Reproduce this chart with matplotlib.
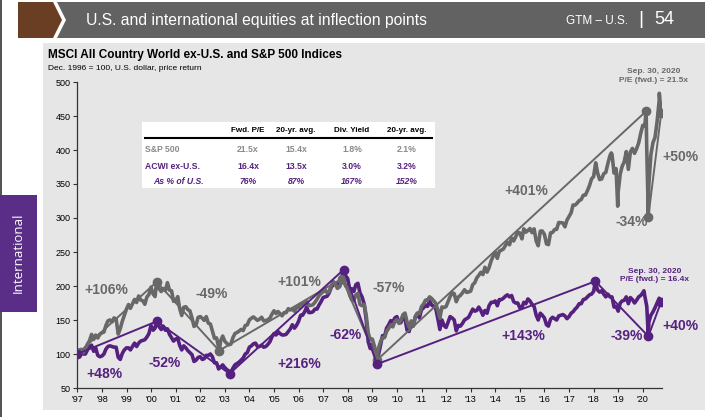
import matplotlib
matplotlib.use("Agg")
import matplotlib.pyplot as plt
from matplotlib.patches import Rectangle, Polygon
import pandas as pd

# Chart data (Dec. 1996 = 100)
sp500_base = 740.74
sp500_close = [
    786.2, 790.8, 757.1, 801.3, 848.3, 885.1, 954.3, 899.5, 947.3, 914.6, 955.4, 970.4,
    980.3, 1049.3, 1101.8, 1111.8, 1090.8, 1133.8, 1120.7, 957.3, 1017.0, 1098.7, 1163.6, 1229.2,
    1279.6, 1238.3, 1286.4, 1335.2, 1301.8, 1372.7, 1328.7, 1320.4, 1282.7, 1362.9, 1388.9, 1469.3,
    1394.5, 1366.4, 1498.6, 1452.4, 1420.6, 1454.6, 1430.8, 1517.7, 1436.5, 1429.4, 1314.9, 1320.3,
    1366.0, 1239.9, 1160.3, 1249.5, 1255.8, 1224.4, 1211.2, 1133.6, 1040.9, 1059.8, 1139.5, 1148.1,
    1130.2, 1106.7, 1147.4, 1076.9, 1067.1, 989.8, 911.6, 916.1, 815.3, 885.8, 936.3, 879.8,
    855.7, 841.2, 848.2, 916.9, 963.6, 974.5, 990.3, 1008.0, 996.0, 1050.7, 1058.2, 1111.9,
    1131.1, 1144.9, 1126.2, 1107.3, 1120.7, 1140.8, 1101.7, 1104.2, 1114.6, 1130.2, 1173.8, 1211.9,
    1181.3, 1203.6, 1180.6, 1156.9, 1191.5, 1191.3, 1234.2, 1220.3, 1228.8, 1207.0, 1249.5, 1248.3,
    1280.1, 1280.7, 1294.9, 1310.6, 1270.1, 1270.2, 1276.7, 1303.8, 1335.9, 1377.9, 1400.6, 1418.3,
    1438.2, 1406.8, 1420.9, 1482.4, 1530.6, 1503.4, 1455.3, 1473.9, 1526.8, 1549.4, 1481.1, 1468.4,
    1378.6, 1330.6, 1322.7, 1385.6, 1400.4, 1280.0, 1267.4, 1282.8, 1166.4, 968.8, 896.2, 903.3,
    825.9, 735.1, 797.9, 872.8, 919.1, 919.3, 987.5, 1020.6, 1057.1, 1036.2, 1095.6, 1115.1,
    1073.9, 1104.5, 1169.4, 1186.7, 1089.4, 1030.7, 1101.6, 1049.3, 1141.2, 1183.3, 1180.6, 1257.6,
    1286.1, 1327.2, 1325.8, 1363.6, 1345.2, 1320.6, 1292.3, 1218.9, 1131.4, 1253.3, 1247.0, 1257.6,
    1312.4, 1365.7, 1408.5, 1397.9, 1310.3, 1362.2, 1379.3, 1406.6, 1440.7, 1412.2, 1416.2, 1426.2,
    1498.1, 1514.7, 1569.2, 1597.6, 1630.7, 1606.3, 1685.7, 1633.0, 1681.6, 1756.5, 1805.8, 1848.4,
    1782.6, 1859.5, 1872.3, 1883.9, 1923.6, 1960.2, 1930.7, 2003.4, 1972.3, 2018.1, 2067.6, 2058.9,
    1995.0, 2104.5, 2067.9, 2085.5, 2107.4, 2063.1, 2103.8, 1972.2, 1920.0, 2079.4, 2080.4, 2043.9,
    1940.2, 1932.2, 2059.7, 2065.3, 2096.9, 2098.9, 2173.6, 2170.9, 2168.3, 2126.2, 2199.0, 2238.8,
    2278.9, 2363.6, 2362.7, 2384.2, 2411.8, 2423.4, 2470.3, 2471.7, 2519.4, 2575.3, 2647.6, 2673.6,
    2823.8, 2713.8, 2640.9, 2648.1, 2705.3, 2718.4, 2816.3, 2901.5, 2914.0, 2711.7, 2760.2, 2506.9,
    2704.1, 2784.5, 2834.4, 2945.8, 2752.1, 2941.8, 2980.4, 2926.5, 2976.7, 3037.6, 3141.0, 3230.8,
    3225.5, 2954.2, 2584.6, 2912.4, 3044.3, 3100.3, 3271.1, 3500.3, 3363.0,
]
sp500_extra_dates = ["2000-03-24", "2002-10-09", "2007-10-09", "2009-03-09",
                     "2018-09-20", "2018-12-24", "2020-02-19", "2020-03-23", "2020-09-02"]
sp500_extra_close = [1527.5, 776.8, 1565.2, 676.5, 2930.8, 2351.1, 3386.2, 2237.4, 3580.8]

acwi_index = [
    100, 101, 100, 100, 106, 111, 113, 104, 109, 98, 96, 97,
    100, 107, 111, 112, 111, 110, 110, 95, 92, 101, 106, 109,
    109, 106, 111, 116, 111, 116, 119, 120, 121, 125, 130, 142,
    135, 138, 146, 140, 136, 141, 135, 137, 129, 124, 119, 122,
    123, 113, 106, 112, 109, 105, 102, 99, 89, 91, 95, 96,
    92, 93, 98, 98, 100, 96, 87, 87, 78, 81, 84, 80,
    77, 75, 73, 79, 84, 86, 88, 91, 94, 100, 102, 110,
    112, 115, 116, 111, 111, 113, 110, 111, 114, 118, 125, 130,
    128, 133, 130, 128, 128, 129, 133, 137, 143, 138, 142, 148,
    157, 157, 162, 169, 161, 161, 162, 166, 166, 172, 177, 183,
    184, 185, 190, 198, 202, 204, 203, 199, 212, 224, 215, 211,
    194, 196, 192, 202, 204, 190, 184, 174, 151, 118, 108, 114,
    103, 93, 98, 112, 127, 126, 138, 143, 149, 147, 153, 155,
    146, 146, 155, 152, 135, 133, 146, 141, 155, 160, 153, 165,
    168, 172, 170, 178, 172, 170, 167, 152, 136, 150, 142, 139,
    147, 155, 153, 150, 134, 142, 141, 145, 150, 152, 154, 160,
    166, 163, 164, 169, 164, 157, 164, 160, 171, 176, 176, 178,
    171, 180, 180, 182, 185, 187, 184, 186, 177, 175, 175, 168,
    168, 176, 174, 181, 178, 173, 170, 157, 150, 160, 157, 153,
    143, 141, 151, 154, 152, 150, 156, 157, 158, 156, 152, 155,
    160, 162, 166, 169, 174, 174, 180, 181, 184, 187, 188, 192,
    204, 194, 191, 193, 188, 184, 188, 184, 184, 169, 170, 163,
    175, 178, 179, 184, 174, 183, 180, 175, 179, 184, 186, 190,
    185, 170, 147, 157, 162, 168, 175, 182, 177,
]
acwi_extra_dates = ["2000-03-24", "2003-03-12", "2009-03-09", "2018-01-26",
                    "2020-01-17", "2020-03-23"]
acwi_extra_index = [148, 71, 85, 207, 193, 126]

# turning points joined by straight lines
sp500_turn_dates = ["1996-12-31", "2000-03-24", "2002-10-09", "2007-10-09",
                    "2009-03-09", "2020-02-19", "2020-03-23", "2020-09-30"]
sp500_turn_values = [100, 206, 105, 211, 91, 457, 302, 454]
acwi_turn_dates = ["1996-12-31", "2000-03-24", "2003-03-12", "2007-10-31",
                   "2009-03-09", "2018-01-26", "2020-03-23", "2020-09-30"]
acwi_turn_values = [100, 148, 71, 224, 85, 207, 126, 177]

sp500_moves = ["+106%", "-49%", "+101%", "-57%", "+401%", "-34%", "+50%"]
acwi_moves = ["+48%", "-52%", "+216%", "-62%", "+143%", "-39%", "+40%"]

table_cols = ["Fwd. P/E", "20-yr. avg.", "Div. Yield", "20-yr. avg."]
table_rows = ["S&P 500", "ACWI ex-U.S.", "As % of U.S."]
table_vals = [["21.5x", "15.4x", "1.8%", "2.1%"],
              ["16.4x", "13.5x", "3.0%", "3.2%"],
              ["76%", "87%", "167%", "152%"]]

year_labels = ["'%02d" % (y % 100) for y in range(1997, 2021)]

GRAY = "#686868"
PURPLE = "#55207f"
PANEL = "#e6e6e6"
FONT = ["Liberation Sans", "DejaVu Sans"]
W, H = 713, 417


def fx(px):
    return px / W


def fy(py):
    return 1 - py / H


def series(values, extra_dates, extra_values, start_value):
    dates = pd.date_range("1997-01-01", periods=len(values), freq="MS") + pd.offsets.MonthEnd(0)
    s = pd.Series(list(values), index=dates)
    s = pd.concat([pd.Series([start_value], index=[pd.Timestamp("1996-12-31")]), s,
                   pd.Series(extra_values, index=pd.to_datetime(extra_dates))])
    return s.sort_index()


sp500 = series([c / sp500_base * 100 for c in sp500_close], sp500_extra_dates,
               [c / sp500_base * 100 for c in sp500_extra_close], 100)
acwi = series(acwi_index, acwi_extra_dates, acwi_extra_index, 100)

plt.rcParams["font.family"] = FONT
fig = plt.figure(figsize=(7.13, 4.17), dpi=100)
fig.patch.set_facecolor("white")

# header band
fig.patches.append(Polygon([(fx(18), fy(2)), (fx(53), fy(2)), (fx(62), fy(20)), (fx(53), fy(38)), (fx(18), fy(38))],
                           closed=True, transform=fig.transFigure, facecolor="#6a3e22", edgecolor="none", zorder=-5))
fig.patches.append(Polygon([(fx(57), fy(2)), (fx(705), fy(2)), (fx(705), fy(38)), (fx(57), fy(38)), (fx(66), fy(20))],
                           closed=True, transform=fig.transFigure, facecolor="#626262", edgecolor="none", zorder=-5))
fig.text(fx(86), fy(20), "U.S. and international equities at inflection points", color="white",
         fontsize=11.3, va="center", ha="left")
fig.text(fx(628), fy(21), "GTM \u2013 U.S.", color="white", fontsize=8.5, va="center", ha="right")
fig.text(fx(641), fy(20), "|", color="white", fontsize=14, va="center", ha="center")
fig.text(fx(654), fy(20), "54", color="white", fontsize=13, va="center", ha="left")

# chart panel and side tab
fig.patches.append(Rectangle((fx(43), fy(410)), fx(705) - fx(43), fy(43) - fy(410),
                             transform=fig.transFigure, facecolor=PANEL, edgecolor="none", zorder=-5))
fig.patches.append(Rectangle((0, fy(312)), fx(37), fy(195) - fy(312),
                             transform=fig.transFigure, facecolor="#5a2d86", edgecolor="none", zorder=-5))
fig.patches.append(Rectangle((0, 0), fx(1.5), 1, transform=fig.transFigure,
                             facecolor="#555555", edgecolor="none", zorder=-6))
fig.text(fx(18.5), fy(253), "International", rotation=90, color="white", fontsize=9.5,
         va="center", ha="center", family=["Open Sans", "DejaVu Sans"])

fig.text(fx(48), fy(55), "MSCI All Country World ex-U.S. and S&P 500 Indices", fontsize=8.5,
         fontweight="bold", va="center")
fig.text(fx(48), fy(68), "Dec. 1996 = 100, U.S. dollar, price return", fontsize=6, va="center")

ax = fig.add_axes([fx(77.3), fy(388), fx(662) - fx(77.3), fy(82) - fy(388)])
ax.set_facecolor(PANEL)

ax.plot(acwi.index, acwi.values, color=PURPLE, lw=2.6, solid_joinstyle="round", zorder=2)
ax.plot(sp500.index, sp500.values, color=GRAY, lw=2.6, solid_joinstyle="round", zorder=3)
ax.plot(pd.to_datetime(sp500_turn_dates), sp500_turn_values, color=GRAY, lw=1.4,
        marker="o", ms=6, zorder=4)
ax.plot(pd.to_datetime(acwi_turn_dates), acwi_turn_values, color=PURPLE, lw=1.4,
        marker="o", ms=6, zorder=5)

ax.set_ylim(50, 500)
ax.set_yticks(range(50, 501, 50))
ax.set_xlim(pd.Timestamp("1996-12-31"), pd.Timestamp("2020-10-12"))
year_ticks = pd.date_range("1997-01-01", periods=len(year_labels), freq="YS")
ax.set_xticks(year_ticks)
ax.set_xticklabels(year_labels)
ax.tick_params(axis="both", labelsize=6.5, length=3, width=0.8, color="#333333", pad=2)
for side in ["top", "right"]:
    ax.spines[side].set_visible(False)
for side in ["left", "bottom"]:
    ax.spines[side].set_color("#333333")
    ax.spines[side].set_linewidth(0.9)

# move labels (placed in data space)
sp500_label_pos = [("1998-03-01", 194), ("2002-06-15", 188), ("2006-01-10", 206), ("2009-09-01", 197),
                   ("2015-04-01", 340), ("2019-07-15", 294), ("2021-07-10", 390)]
acwi_label_pos = [("1998-02-10", 70), ("2000-07-15", 87), ("2006-01-05", 85), ("2007-12-01", 128),
                  ("2015-02-15", 126), ("2019-05-01", 126), ("2021-07-10", 141)]
for txt, (d, v) in zip(sp500_moves, sp500_label_pos):
    ax.text(pd.Timestamp(d), v, txt, color=GRAY, fontsize=10, fontweight="bold",
            ha="center", va="center", clip_on=False, zorder=6)
for txt, (d, v) in zip(acwi_moves, acwi_label_pos):
    ax.text(pd.Timestamp(d), v, txt, color=PURPLE, fontsize=10, fontweight="bold",
            ha="center", va="center", clip_on=False, zorder=6)

ax.text(pd.Timestamp("2020-06-15"), 509, "Sep. 30, 2020\nP/E (fwd.) = 21.5x", color=GRAY,
        fontsize=6, fontweight="bold", ha="center", va="center", linespacing=1.25, clip_on=False)
ax.text(pd.Timestamp("2020-06-25"), 215, "Sep. 30, 2020\nP/E (fwd.) = 16.4x", color=PURPLE,
        fontsize=6, fontweight="bold", ha="center", va="center", linespacing=1.25, clip_on=False)

# valuation table
fig.patches.append(Rectangle((fx(142), fy(188)), fx(435) - fx(142), fy(122) - fy(188),
                             transform=fig.transFigure, facecolor="white", edgecolor="none", zorder=10))
fig.lines.append(plt.Line2D([fx(145), fx(432)], [fy(138), fy(138)], transform=fig.transFigure,
                            color="black", lw=1.5, zorder=11))
col_x = [248, 296, 352, 407]
row_y = [149, 167, 182]
for cx, c in zip(col_x, table_cols):
    fig.text(fx(cx), fy(131), c, fontsize=5.8, fontweight="bold", ha="center", va="center", zorder=12)
row_style = [dict(color="#8a8a8a", fontweight="bold", fontstyle="normal"),
             dict(color=PURPLE, fontweight="bold", fontstyle="normal"),
             dict(color=PURPLE, fontweight="bold", fontstyle="italic")]
row_x = [145, 145, 153]
for ry, rx, name, vals, st in zip(row_y, row_x, table_rows, table_vals, row_style):
    fig.text(fx(rx), fy(ry), name, fontsize=6.2, ha="left", va="center", zorder=12, **st)
    for cx, v in zip(col_x, vals):
        fig.text(fx(cx), fy(ry), v, fontsize=6.2, ha="center", va="center", zorder=12, **st)

fig.savefig("out.png", dpi=100)
